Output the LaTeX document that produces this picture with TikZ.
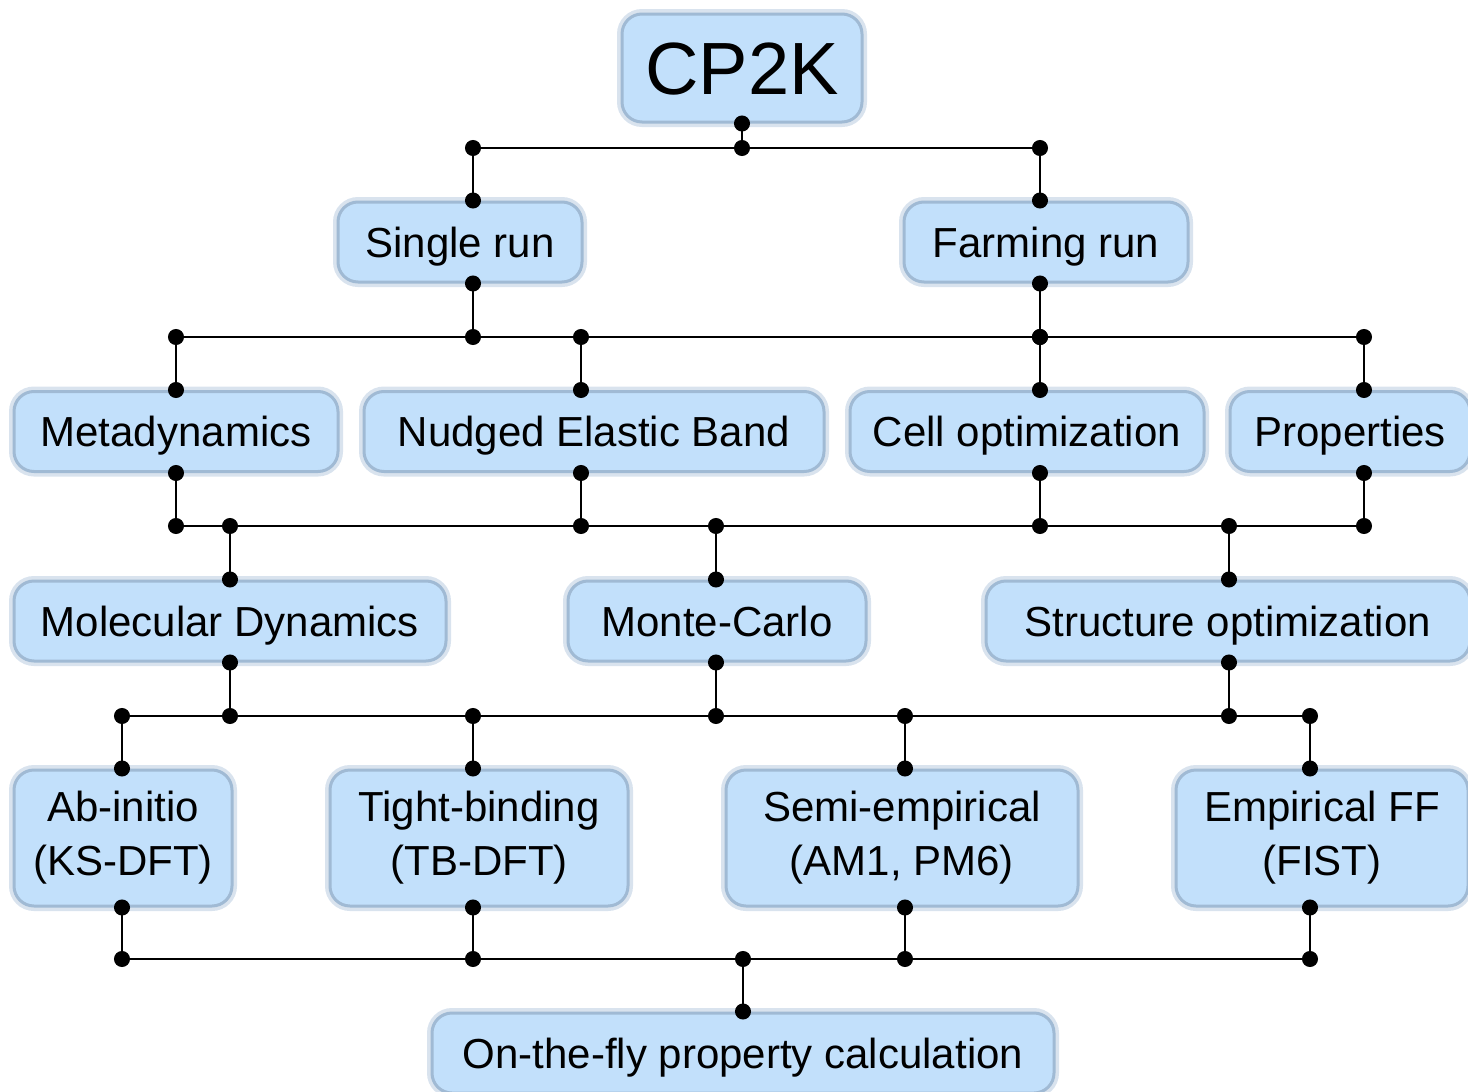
\documentclass[tikz,border=0pt]{standalone}
\usepackage{fontspec}
\setmainfont{Liberation Sans}
\usetikzlibrary{arrows.meta}
\definecolor{boxblue}{RGB}{194,224,251}
\definecolor{boxedge}{RGB}{160,186,212}

\begin{document}
\begin{tikzpicture}[
        x=1pt, y=-1pt,
        font=\fontsize{42}{54}\selectfont,
        blob/.style={rectangle, rounded corners=20pt, fill=boxblue, draw=boxedge, line width=3pt,
            preaction={draw=boxedge!40!white, line width=10pt}, inner sep=0pt},
        box/.style={blob, minimum height=80pt, text height=30pt, text depth=0pt},
        tall/.style={blob, minimum height=136pt, align=center},
        link/.style={line width=2.8pt, {Circle[length=16pt]}-{Circle[length=16pt]}, shorten <=-8pt, shorten >=-8pt},
        bus/.style={line width=2.8pt}
    ]
        \useasboundingbox (0,0) rectangle (1468,1092);

        \node[box, minimum width=240pt, minimum height=108pt, text height=53pt, font=\fontsize{74}{80}\selectfont] (cp2k) at (742,68) {CP2K};

        \node[box, minimum width=244pt] (single) at (460,242) {Single run};
        \node[box, minimum width=284pt] (farm) at (1046,242) {Farming run};

        \node[box, minimum width=324pt] (meta) at (176,431.5) {Metadynamics};
        \node[box, minimum width=460pt] (neb) at (594,431.5) {Nudged Elastic Band};
        \node[box, minimum width=354pt] (cell) at (1027,431.5) {Cell optimization};
        \node[box, minimum width=240pt] (prop) at (1350,431.5) {Properties};

        \node[box, minimum width=432pt] (md) at (230,621) {Molecular Dynamics};
        \node[box, minimum width=298pt] (mc) at (717,621) {Monte-Carlo};
        \node[box, minimum width=484pt] (so) at (1228,621) {Structure optimization};

        \node[tall, minimum width=218pt] (abin) at (123,838) {Ab-initio\\(KS-DFT)};
        \node[tall, minimum width=298pt] (tb) at (479,838) {Tight-binding\\(TB-DFT)};
        \node[tall, minimum width=352pt] (semi) at (902,838) {Semi-empirical\\(AM1, PM6)};
        \node[tall, minimum width=292pt] (emp) at (1322,838) {Empirical FF\\(FIST)};

        \node[box, minimum width=622pt] (fly) at (743,1053) {On-the-fly property calculation};

        % bus junctions
        \coordinate (c1) at (742,148);
        \coordinate (s1) at (473,148);
        \coordinate (f1) at (1040,148);

        \coordinate (m2) at (176,337);
        \coordinate (s2) at (473,337);
        \coordinate (n2) at (581,337);
        \coordinate (f2) at (1040,337);
        \coordinate (p2) at (1364,337);

        \coordinate (m3) at (176,526);
        \coordinate (d3) at (230,526);
        \coordinate (n3) at (581,526);
        \coordinate (c3) at (716,526);
        \coordinate (o3) at (1040,526);
        \coordinate (s3) at (1229,526);
        \coordinate (p3) at (1364,526);

        \coordinate (a4) at (122,716);
        \coordinate (d4) at (230,716);
        \coordinate (t4) at (473,716);
        \coordinate (c4) at (716,716);
        \coordinate (e4) at (905,716);
        \coordinate (s4) at (1229,716);
        \coordinate (f4) at (1310,716);

        \coordinate (a5) at (122,959);
        \coordinate (t5) at (473,959);
        \coordinate (o5) at (743,959);
        \coordinate (e5) at (905,959);
        \coordinate (f5) at (1310,959);

        % CP2K -> run types
        \draw[bus] (s1) -- (f1);
        \draw[link] (cp2k.south) -- (c1);
        \foreach \p/\n in {s1/single,f1/farm}
            \draw[link] (\p) -- (\p |- \n.north);

        % run types -> methods
        \draw[bus] (m2) -- (p2);
        \foreach \p/\n in {s2/single,f2/farm}
            \draw[link] (\p |- \n.south) -- (\p);
        \foreach \p/\n in {m2/meta,n2/neb,f2/cell,p2/prop}
            \draw[link] (\p) -- (\p |- \n.north);

        % methods -> sampling
        \draw[bus] (m3) -- (p3);
        \foreach \p/\n in {m3/meta,n3/neb,o3/cell,p3/prop}
            \draw[link] (\p |- \n.south) -- (\p);
        \foreach \p/\n in {d3/md,c3/mc,s3/so}
            \draw[link] (\p) -- (\p |- \n.north);

        % sampling -> energy models
        \draw[bus] (a4) -- (f4);
        \foreach \p/\n in {d4/md,c4/mc,s4/so}
            \draw[link] (\p |- \n.south) -- (\p);
        \foreach \p/\n in {a4/abin,t4/tb,e4/semi,f4/emp}
            \draw[link] (\p) -- (\p |- \n.north);

        % energy models -> properties
        \draw[bus] (a5) -- (f5);
        \foreach \p/\n in {a5/abin,t5/tb,e5/semi,f5/emp}
            \draw[link] (\p |- \n.south) -- (\p);
        \draw[link] (o5) -- (fly.north);
    \end{tikzpicture}
\end{document}
